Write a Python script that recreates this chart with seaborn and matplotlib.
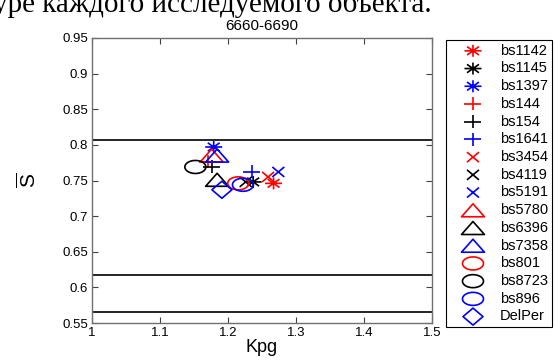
import numpy as np
import pandas as pd
import seaborn as sns
import matplotlib.pyplot as plt
from matplotlib.path import Path
from matplotlib.ticker import FormatStrFormatter

# data
names = ['bs1142', 'bs1145', 'bs1397', 'bs144', 'bs154', 'bs1641', 'bs3454', 'bs4119',
         'bs5191', 'bs5780', 'bs6396', 'bs7358', 'bs801', 'bs8723', 'bs896', 'DelPer']
kpg = [1.267, 1.237, 1.179, 1.170, 1.176, 1.235, 1.259, 1.226,
       1.274, 1.176, 1.184, 1.184, 1.215, 1.152, 1.222, 1.191]
s_mean = [0.746, 0.748, 0.797, 0.776, 0.769, 0.762, 0.755, 0.748,
          0.762, 0.785, 0.751, 0.785, 0.746, 0.769, 0.744, 0.737]
colors = ['red', 'black', 'blue'] * 5 + ['blue']
shapes = ['ast'] * 3 + ['plus'] * 3 + ['x'] * 3 + ['tri'] * 3 + ['circ'] * 3 + ['diam']
hlines = [0.807, 0.618, 0.566]
title = '6660-6690'


def seg_path(segs):
    verts, codes = [], []
    for a, b in segs:
        verts += [a, b]
        codes += [Path.MOVETO, Path.LINETO]
    return Path(verts, codes)


# the source picture is stretched sideways, so markers are a bit wider than tall
def make_marker(kind):
    if kind == 'ast':
        rx, ry = 8.5, 6.0
        p = seg_path([((-rx, 0), (rx, 0)), ((0, -ry), (0, ry)),
                      ((-.7 * rx, -.7 * ry), (.7 * rx, .7 * ry)),
                      ((-.7 * rx, .7 * ry), (.7 * rx, -.7 * ry))])
    elif kind == 'plus':
        rx, ry = 8.5, 6.5
        p = seg_path([((-rx, 0), (rx, 0)), ((0, -ry), (0, ry))])
    elif kind == 'x':
        rx, ry = 6.0, 5.0
        p = seg_path([((-rx, -ry), (rx, ry)), ((-rx, ry), (rx, -ry))])
    elif kind == 'tri':
        rx, ry = 11.5, 6.5
        p = Path([(0, ry), (-rx, -ry), (rx, -ry), (0, ry)], closed=True)
    elif kind == 'circ':
        rx, ry = 10.5, 6.5
        t = np.linspace(0, 2 * np.pi, 60)
        p = Path(np.column_stack([rx * np.cos(t), ry * np.sin(t)]), closed=True)
    else:
        rx, ry = 10.0, 8.5
        p = Path([(0, ry), (-rx, 0), (0, -ry), (rx, 0), (0, ry)], closed=True)
    size_pt = 2 * max(rx, ry) * 0.72
    return p, size_pt ** 2


df = pd.DataFrame({'name': names, 'kpg': kpg, 's': s_mean, 'color': colors, 'shape': shapes})

plt.rcParams['font.family'] = ['Liberation Sans', 'DejaVu Sans']
plt.rcParams['mathtext.fontset'] = 'custom'
plt.rcParams['mathtext.rm'] = 'Liberation Sans'
plt.rcParams['mathtext.it'] = 'Liberation Sans'

fig = plt.figure(figsize=(5.6, 3.61), dpi=100)
ax = fig.add_axes([92 / 560, 1 - 323 / 361, 340 / 560, 285 / 361])

for y in hlines:
    ax.axhline(y, color='black', lw=1.2, zorder=1)

for _, r in df.iterrows():
    m, s = make_marker(r['shape'])
    sns.scatterplot(x=[r['kpg']], y=[r['s']], marker=m, s=s, facecolor='none',
                    edgecolor=r['color'], linewidth=1.2, label=r['name'], ax=ax, zorder=3)

ax.set_xlim(1, 1.5)
ax.set_ylim(0.55, 0.95)
ax.set_xticks(np.arange(1, 1.51, 0.1))
ax.set_yticks(np.arange(0.55, 0.951, 0.05))
ax.xaxis.set_major_formatter(FormatStrFormatter('%g'))
ax.yaxis.set_major_formatter(FormatStrFormatter('%g'))
ax.tick_params(direction='in', length=4.5, width=0.8, top=True, right=True,
               labelsize=9.5, color='#404040', pad=3)
for sp in ax.spines.values():
    sp.set_color('#707070')
    sp.set_linewidth(1.0)

ax.set_title(title, fontsize=11, pad=6)
ax.set_xlabel('Kpg', fontsize=13, labelpad=0)
ax.set_ylabel(r'$\overline{\mathrm{S}}$', fontsize=15, labelpad=16)

leg = ax.legend(loc='upper left', bbox_to_anchor=(446 / 560, 1 - 40 / 361),
                bbox_transform=fig.transFigure, fontsize=10.5, frameon=True,
                fancybox=False, edgecolor='black', framealpha=1,
                handlelength=3.2, handletextpad=0.25, labelspacing=0.255,
                borderpad=0.25, borderaxespad=0, scatterpoints=1)
leg.get_frame().set_linewidth(0.8)

# cropped line of document text above the figure
fig.text(-0.012, 1 - 12 / 361, 'уре каждого исследуемого объекта.',
         family='Liberation Serif', fontsize=21, va='baseline', ha='left')

fig.savefig('out.png', dpi=100)
